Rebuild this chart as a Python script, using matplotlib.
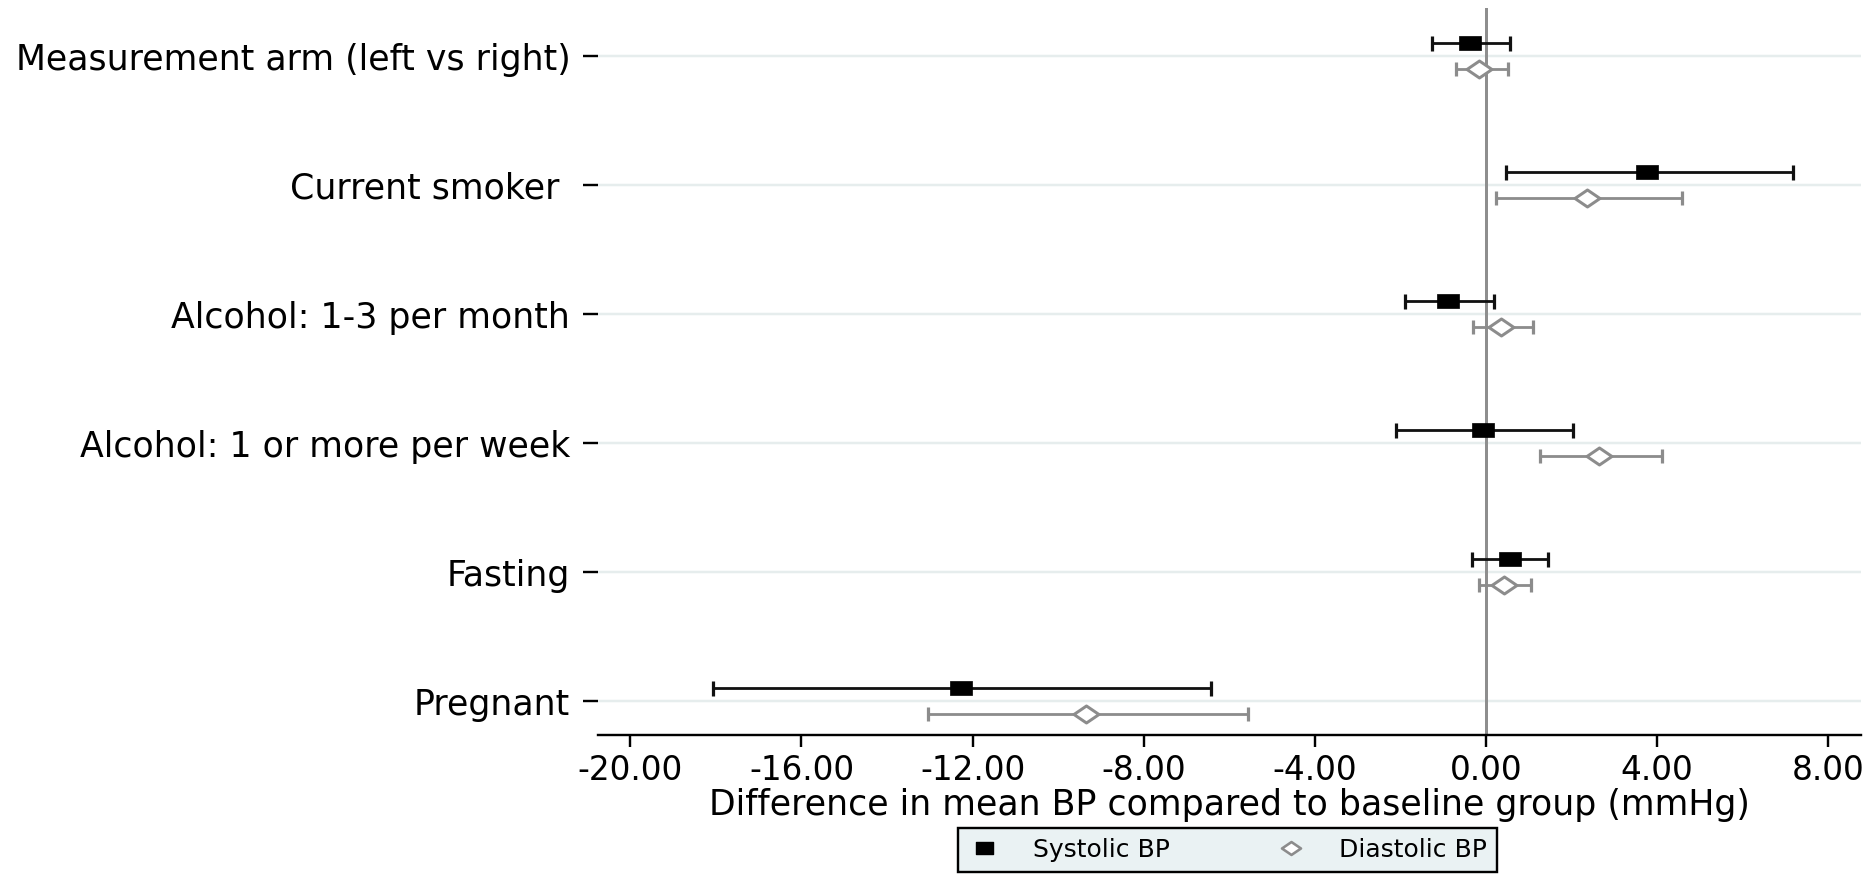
import matplotlib
matplotlib.use("Agg")
import matplotlib.pyplot as plt
from matplotlib.path import Path
from matplotlib.lines import Line2D

# ---- data ----
categories = ["Measurement arm (left vs right)", "Current smoker ", "Alcohol: 1-3 per month",
              "Alcohol: 1 or more per week", "Fasting", "Pregnant"]
sys_est = [-0.38, 3.77, -0.89, -0.08, 0.56, -12.27]
sys_lo = [-1.27, 0.46, -1.90, -2.11, -0.34, -18.07]
sys_hi = [0.56, 7.18, 0.18, 2.04, 1.45, -6.43]
dia_est = [-0.17, 2.35, 0.34, 2.64, 0.42, -9.35]
dia_lo = [-0.71, 0.23, -0.30, 1.27, -0.16, -13.04]
dia_hi = [0.52, 4.57, 1.09, 4.12, 1.05, -5.57]
xtick_values = [-20, -16, -12, -8, -4, 0, 4, 8]
xtick_labels = [f"{v:.2f}" for v in xtick_values]
series_names = ["Systolic BP", "Diastolic BP"]
xlabel = "Difference in mean BP compared to baseline group (mmHg)"

plt.rcParams['font.family'] = ['DejaVu Sans']

DPI = 100
fig = plt.figure(figsize=(18.74, 8.76), dpi=DPI)
ax = fig.add_axes([0.319, 0.1613, 0.674, 0.8291])

n = len(categories)
ypos = [n - i for i in range(n)]
off = 0.1

rect = Path([(-1, -0.68), (1, -0.68), (1, 0.68), (-1, 0.68), (-1, -0.68)],
            [Path.MOVETO, Path.LINETO, Path.LINETO, Path.LINETO, Path.CLOSEPOLY])
diamond = Path([(-1, 0), (0, 0.68), (1, 0), (0, -0.68), (-1, 0)],
               [Path.MOVETO, Path.LINETO, Path.LINETO, Path.LINETO, Path.CLOSEPOLY])

px = 72.0 / DPI
black = "#000000"
gray = "#8c8c8c"

# grid lines
for y in ypos:
    ax.axhline(y, color="#e6eded", lw=2.5 * px, zorder=0)
# zero line
ax.axvline(0, color="#8e8e8e", lw=3 * px, zorder=1)

ys = [y + off for y in ypos]
yd = [y - off for y in ypos]
sys_err = [[e - l for e, l in zip(sys_est, sys_lo)], [h - e for e, h in zip(sys_est, sys_hi)]]
dia_err = [[e - l for e, l in zip(dia_est, dia_lo)], [h - e for e, h in zip(dia_est, dia_hi)]]

ax.errorbar(sys_est, ys, xerr=sys_err, fmt='none', ecolor="#111111", elinewidth=2.8 * px,
            capsize=7.5 * px, capthick=3.2 * px, zorder=2)
ax.plot(sys_est, ys, linestyle='none', marker=rect, markersize=22 * px,
        markerfacecolor=black, markeredgecolor=black, markeredgewidth=0.5, zorder=3)
ax.errorbar(dia_est, yd, xerr=dia_err, fmt='none', ecolor=gray, elinewidth=2.8 * px,
            capsize=7 * px, capthick=3.2 * px, zorder=2)
ax.plot(dia_est, yd, linestyle='none', marker=diamond, markersize=25 * px,
        markerfacecolor='white', markeredgecolor=gray, markeredgewidth=3 * px, zorder=3)

ax.set_xlim(-20.76, 8.76)
ax.set_ylim(0.74, 6.37)
ax.set_yticks(ypos)
ax.set_yticklabels(categories, fontsize=25)
ax.set_xticks(xtick_values)
ax.set_xticklabels(xtick_labels, fontsize=23.5)
ax.set_xlabel(xlabel, fontsize=25, labelpad=1)

for s in ['top', 'right', 'left']:
    ax.spines[s].set_visible(False)
ax.spines['bottom'].set_linewidth(2.4 * px)
ax.tick_params(axis='y', length=15 * px, width=2.4 * px, pad=9, colors=black)
ax.tick_params(axis='x', length=12 * px, width=2.4 * px, pad=5, colors=black)

handles = [Line2D([], [], linestyle='none', marker=rect, markersize=17 * px,
                  markerfacecolor=black, markeredgecolor=black),
           Line2D([], [], linestyle='none', marker=diamond, markersize=19 * px,
                  markerfacecolor='white', markeredgecolor=gray, markeredgewidth=2.6 * px)]
leg = fig.legend(handles, series_names, loc='center', bbox_to_anchor=(0.655, 0.0297),
                 ncol=2, fontsize=18, frameon=True, fancybox=False, edgecolor=black,
                 facecolor="#eaf2f3", borderpad=0.4, columnspacing=4.2, handletextpad=1.3,
                 handlelength=1.3, borderaxespad=0)
leg.get_frame().set_linewidth(2.4 * px)
leg.get_frame().set_alpha(1)

fig.savefig("out.png", dpi=DPI)
